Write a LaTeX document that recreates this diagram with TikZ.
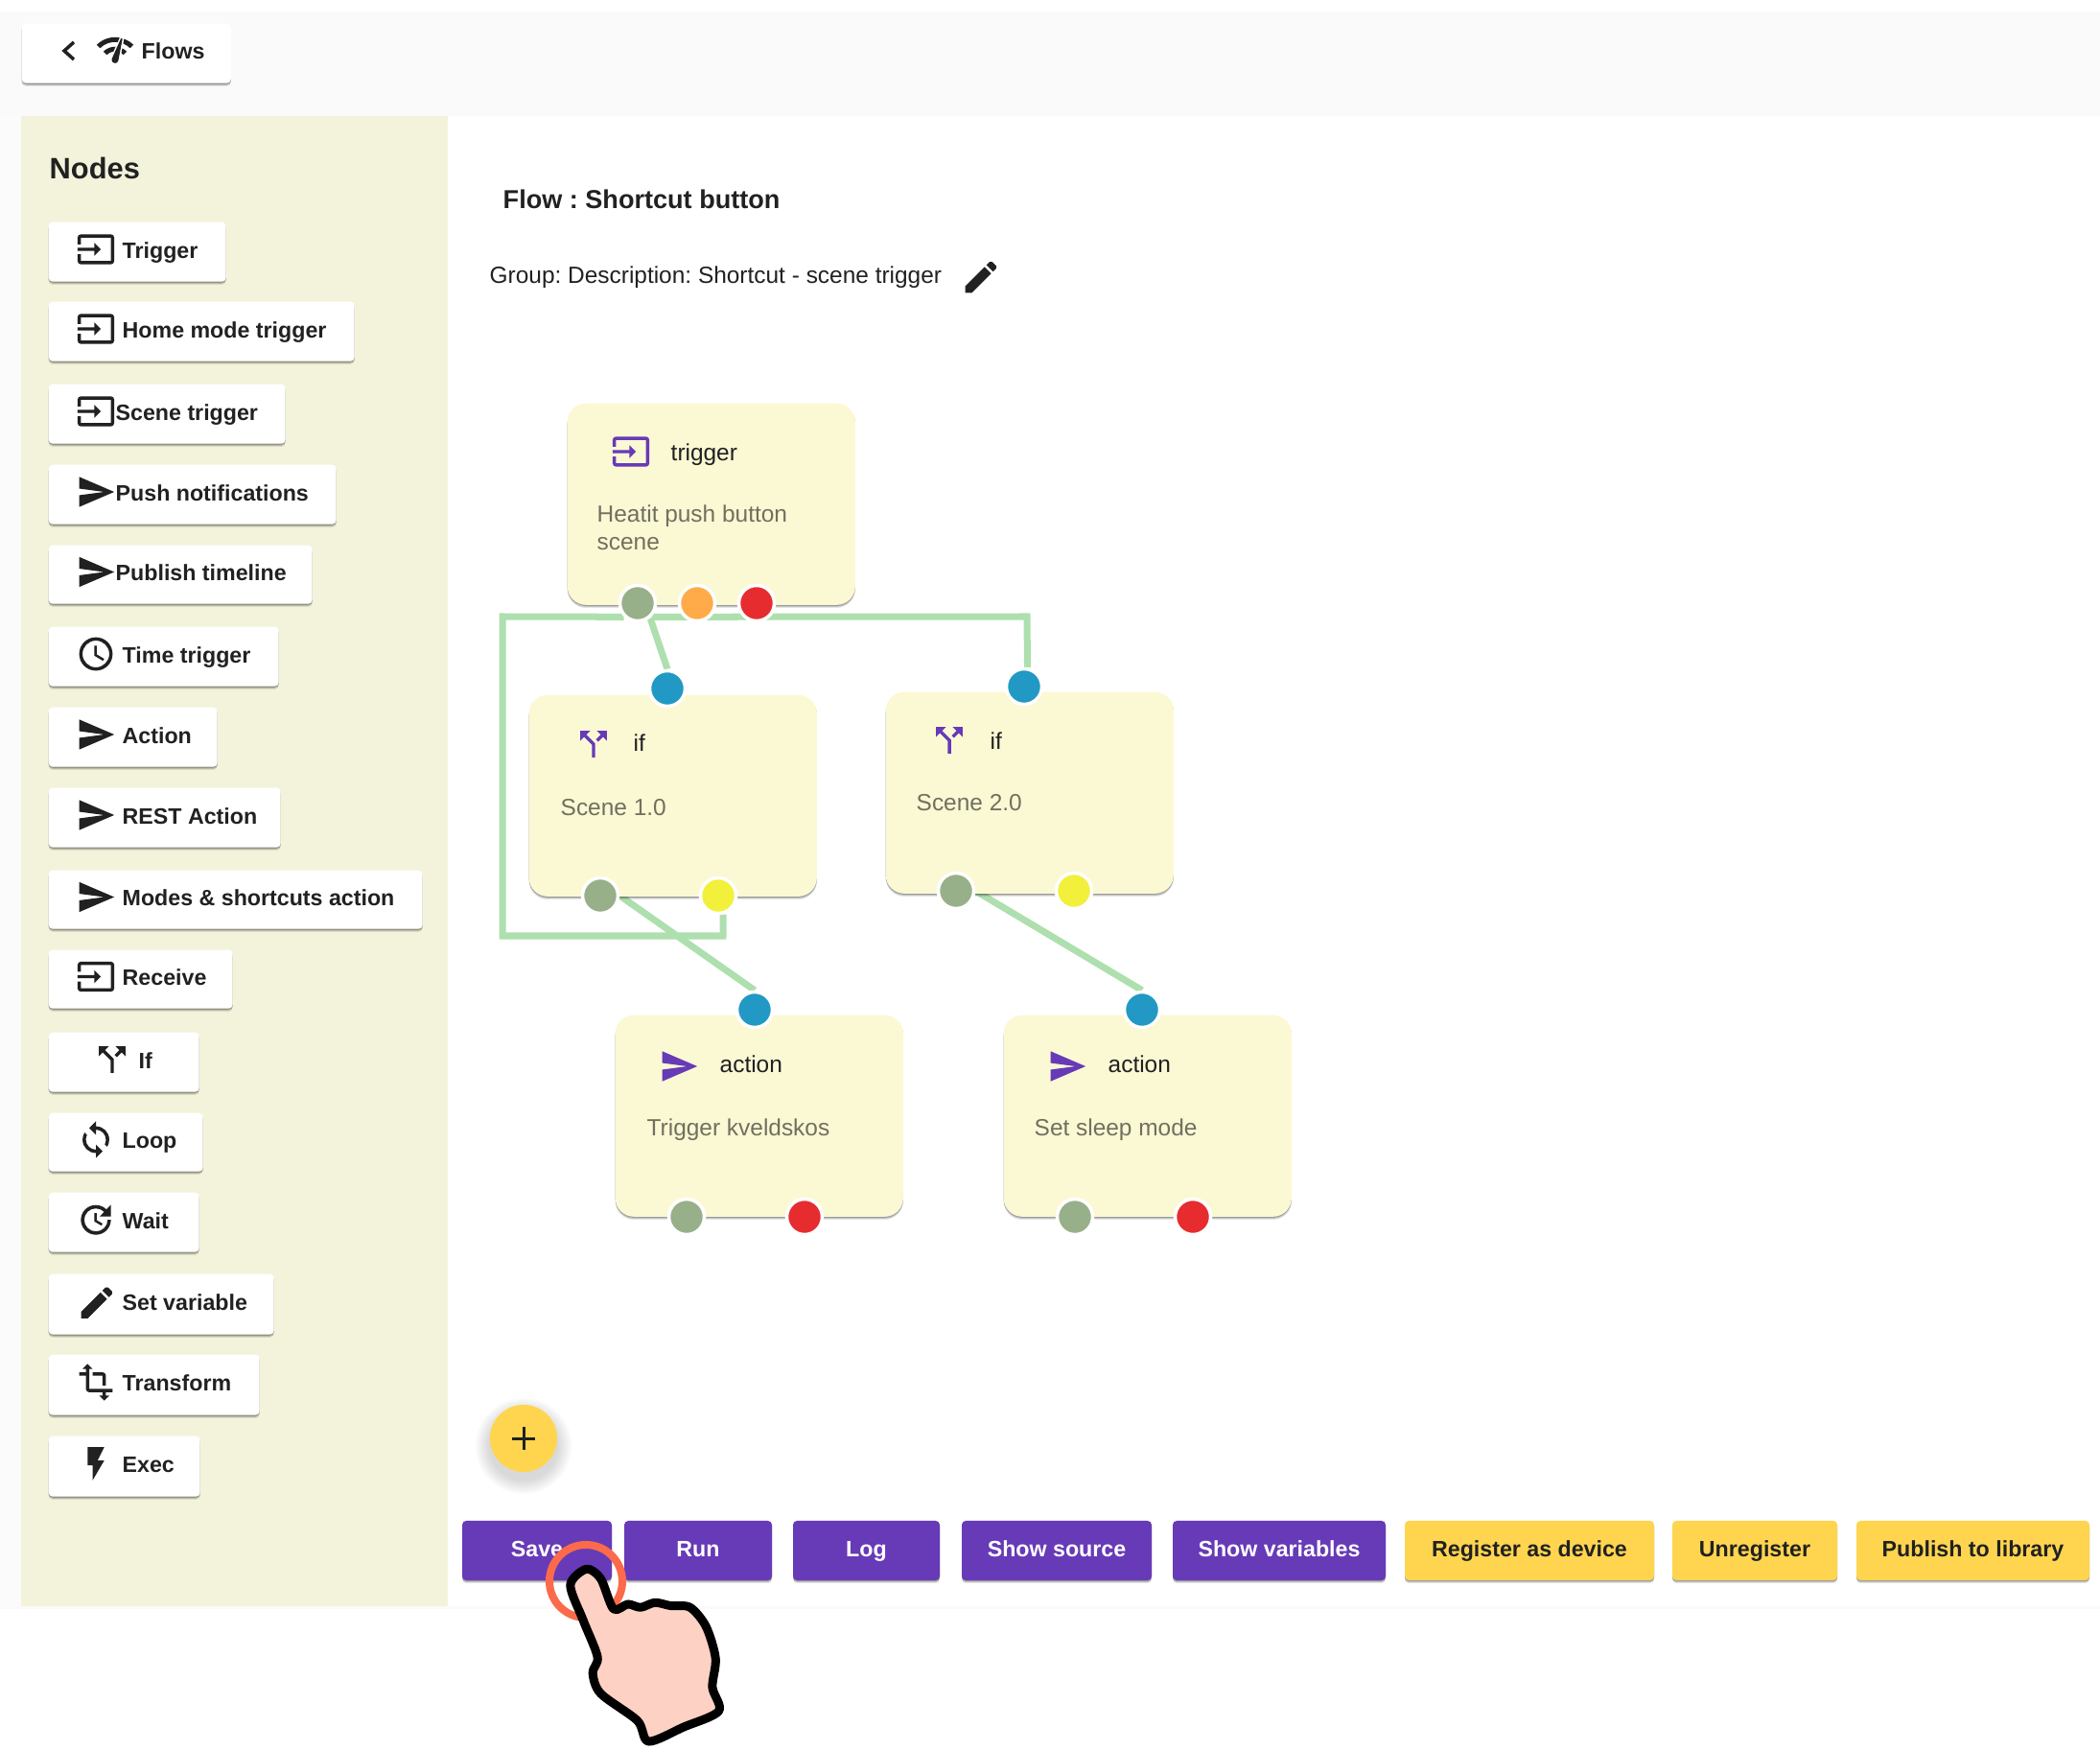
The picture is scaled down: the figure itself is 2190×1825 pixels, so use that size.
\documentclass[tikz,border=0pt]{standalone}
\usepackage{fontspec}
\setmainfont{Liberation Sans}
\frenchspacing
\usetikzlibrary{shadows,backgrounds,svg.path}
\definecolor{inkc}{HTML}{212121}
\definecolor{violetc}{HTML}{673AB7}
\definecolor{amberc}{HTML}{FFD54F}
\definecolor{panelc}{HTML}{F3F3DC}
\definecolor{cardc}{HTML}{FBF8D4}
\definecolor{wirec}{HTML}{AEDFAE}
\definecolor{dimc}{HTML}{71705F}
\definecolor{bluec}{HTML}{2199C4}
\definecolor{greenc}{HTML}{97B08A}
\definecolor{orangec}{HTML}{FFAB4A}
\definecolor{redc}{HTML}{E62C2F}
\definecolor{yellowc}{HTML}{F2F03A}
\definecolor{ringc}{HTML}{FB6A4A}
\definecolor{skinc}{HTML}{FDD1C3}
\tikzset{
	softshadow/.style={
		general shadow={shadow xshift=0pt,shadow yshift=-.9pt,opacity=.1,fill=black},
		general shadow={shadow xshift=0pt,shadow yshift=-.6pt,opacity=.15,fill=black},
		general shadow={shadow xshift=0pt,shadow yshift=-.3pt,opacity=.2,fill=black}},
	sidebtn/.style={fill=white,rounded corners=1.2pt,inner sep=0pt,anchor=north west,softshadow},
	actbtn/.style={fill=#1,rounded corners=1.2pt,inner sep=0pt,softshadow,minimum height=.62cm,text height=.72em,text depth=.37em},
	flowcard/.style={fill=cardc,rounded corners=5.5pt,inner sep=0pt,anchor=north west,softshadow,minimum width=3cm,minimum height=2.1cm},
	port/.style={circle,fill=#1,draw=white,line width=.035cm,minimum size=.37cm,inner sep=0pt},
	wire/.style={draw=wirec,line width=.07cm},
	medlab/.style={font=\fontsize{6.6}{8}\selectfont\bfseries,text=inkc,inner sep=0pt,anchor=west,text height=.72em,text depth=.2em},
	cardtitle/.style={font=\fontsize{6.95}{8}\selectfont,text=inkc,inner sep=0pt,anchor=west,text height=.72em,text depth=.2em},
	carddesc/.style={font=\fontsize{6.95}{8}\selectfont,text=dimc,inner sep=0pt,anchor=west,text height=.72em,text depth=.2em},
	icscale/.style={scale=.495,yscale=-1,shift={(-12pt,-12pt)}},
	pics/iconinput/.style={code={\fill[#1,icscale] svg {M21 3.01H3c-1.1 0-2 .9-2 2V9h2V4.99h18v14.03H3V15H1v4.01c0 1.1.9 1.98 2 1.98h18c1.1 0 2-.88 2-1.98v-14c0-1.11-.9-2-2-2zM11 16l4-4-4-4v3H1v2h10v3z};}},
	pics/iconsend/.style={code={\fill[#1,icscale] svg {M2.01 21L23 12 2.01 3 2 10l15 2-15 2z};}},
	pics/iconclock/.style={code={\fill[#1,icscale] svg {M11.99 2C6.47 2 2 6.48 2 12s4.47 10 9.99 10C17.52 22 22 17.52 22 12S17.52 2 11.99 2zM12 20c-4.42 0-8-3.58-8-8s3.58-8 8-8 8 3.58 8 8-3.58 8-8 8zm.5-13H11v6l5.25 3.15.75-1.23-4.5-2.67z};}},
	pics/iconsplit/.style={code={\fill[#1,icscale] svg {M14 4l2.29 2.29-2.88 2.88 1.42 1.42 2.88-2.88L20 10V4h-6zM10 4H4v6l2.29-2.29 4.71 4.7V20h2v-8.41l-5.29-5.3L10 4z};}},
	pics/iconloop/.style={code={\fill[#1,icscale] svg {M12 4V1L8 5l4 4V6c3.31 0 6 2.69 6 6 0 1.01-.25 1.97-.7 2.8l1.46 1.46C19.54 15.03 20 13.57 20 12c0-4.42-3.58-8-8-8zm0 14c-3.31 0-6-2.69-6-6 0-1.01.25-1.97.7-2.8L5.24 7.74C4.46 8.97 4 10.43 4 12c0 4.42 3.58 8 8 8v3l4-4-4-4v3z};}},
	pics/iconupdate/.style={code={\fill[#1,icscale] svg {M21 10.12h-6.78l2.74-2.82c-2.73-2.7-7.15-2.8-9.88-.1-2.73 2.71-2.73 7.08 0 9.79s7.15 2.71 9.88 0C18.32 15.65 19 14.08 19 12.1h2c0 1.98-.88 4.55-2.64 6.29-3.51 3.48-9.21 3.48-12.72 0-3.5-3.47-3.53-9.11-.02-12.58s9.14-3.47 12.65 0L21 3v7.12zM12.5 8v4.25l3.5 2.08-.72 1.21L11 13V8h1.5z};}},
	pics/iconedit/.style={code={\fill[#1,icscale,scale=1.05] svg {M3 17.25V21h3.75L17.81 9.94l-3.75-3.75L3 17.25zM20.71 7.04c.39-.39.39-1.02 0-1.41l-2.34-2.34c-.39-.39-1.02-.39-1.41 0l-1.83 1.83 3.75 3.75 1.83-1.83z};}},
	pics/icontransform/.style={code={\fill[#1,icscale] svg {M22 18v-2H8V4h2L7 1 4 4h2v2H2v2h4v8c0 1.1.9 2 2 2h8v2h-2l3 3 3-3h-2v-2h4zM10 8h6v6h2V8c0-1.1-.9-2-2-2h-6v2z};}},
	pics/iconflash/.style={code={\fill[#1,icscale] svg {M7 2v11h3v9l7-12h-4l4-8z};}},
	pics/iconnetwork/.style={code={\fill[#1,icscale] svg {M15.9 5c-.17 0-.32.09-.41.23l-.07.15-5.18 11.65c-.16.29-.26.61-.26.96 0 1.11.9 2.01 2.01 2.01.96 0 1.77-.68 1.96-1.59l.01-.03L16.4 5.5c0-.28-.22-.5-.5-.5zM1 9l2 2c2.88-2.88 6.79-4.08 10.53-3.62l1.19-2.68C9.89 3.84 4.74 5.27 1 9zm20 2l2-2c-1.64-1.64-3.55-2.82-5.59-3.57l-.53 2.82c1.5.62 2.9 1.53 4.12 2.75zm-4 4l2-2c-.8-.8-1.7-1.42-2.66-1.89l-.55 2.92c.42.27.83.59 1.21.97zM5 13l2 2c1.13-1.13 2.56-1.79 4.03-2l1.28-2.88c-2.63-.08-5.3.87-7.31 2.88z};}},
}
\begin{document}
\begin{tikzpicture}[x=0.01cm,y=-0.01cm]
	\useasboundingbox (0,0) rectangle (2190,1825);
	\fill[black!2] (0,12) rectangle (2190,121);
	\fill[black!1.5] (0,121) rectangle (22,1677);
	\fill[black!2] (0,1675) rectangle (2190,1678);
	\fill[panelc] (22,121) rectangle (467,1675);

	\node[sidebtn,minimum width=2.18cm,minimum height=.62cm] (btnflows) at (22,24) {};
	\draw[inkc,line width=.035cm] (77,44) -- (67,53) -- (77,62);
	\pic at (120,52) {iconnetwork=inkc};
	\node[medlab] (labflows) at (147,52) {Flows};
	\node[font=\fontsize{8.77}{10}\selectfont\bfseries,text=inkc,inner sep=0pt,anchor=west] (nodestitle) at (51,175) {Nodes};

	\foreach \nm/\ic/\lab/\yt/\yb/\xr/\xi/\xt in {
		trigger/iconinput/Trigger/231/293/235/100/127,
		homemode/iconinput/Home mode trigger/314/376/369/100/127,
		scene/iconinput/Scene trigger/400/462/297/100/120,
		push/iconsend/Push notifications/484/546/350/100/120,
		publish/iconsend/Publish timeline/568/629/325/100/120,
		time/iconclock/Time trigger/653/715/290/100/127,
		action/iconsend/Action/737/799/226/100/127,
		rest/iconsend/REST Action/821/883/292/100/127,
		modes/iconsend/Modes \& shortcuts action/907/968/440/100/127,
		receive/iconinput/Receive/990/1051/242/100/127,
		ifnode/iconsplit/If/1076/1138/207/117/144,
		loop/iconloop/Loop/1160/1221/211/100/127,
		wait/iconupdate/Wait/1243/1305/207/100/127,
		setvar/iconedit/Set variable/1328/1391/285/100/127,
		transform/icontransform/Transform/1412/1475/270/100/127,
		exec/iconflash/Exec/1497/1560/208/100/127}
	{
		\pgfmathsetmacro{\yc}{(\yt+\yb)/2-2}
		\node[sidebtn,minimum width={(\xr-50)*0.01cm},minimum height={(\yb-\yt)*0.01cm}] (btn\nm) at (50,\yt) {};
		\pic at (\xi,\yc) {\ic=inkc};
		\node[medlab] (lab\nm) at (\xt,\yc) {\lab};
	}

	\node[inner sep=0pt,anchor=west,font=\fontsize{7.7}{9}\selectfont\bfseries,text=inkc] (flowtitle) at (524,208) {Flow : Shortcut button};
	\node[cardtitle,text=inkc] (flowgroup) at (510,286) {Group: Description: Shortcut - scene trigger};
	\pic at (1022,288) {iconedit=inkc};

	\node[flowcard] (cardtrigger) at (591,420) {};
	\node[flowcard] (cardifa) at (551,724) {};
	\node[flowcard] (cardifb) at (923,721) {};
	\node[flowcard] (cardacta) at (641,1058) {};
	\node[flowcard] (cardactb) at (1046,1058) {};

	\pic at (658,471) {iconinput=violetc};
	\node[cardtitle] (ttrigger) at (699,471) {trigger};
	\node[carddesc] (dtriggera) at (622,535) {Heatit push button};
	\node[carddesc] (dtriggerb) at (622,564) {scene};
	\pic at (619,776) {iconsplit=violetc};
	\node[cardtitle] (tifa) at (660,774) {if};
	\node[carddesc] (difa) at (584,841) {Scene 1.0};
	\pic at (990,772) {iconsplit=violetc};
	\node[cardtitle] (tifb) at (1032,772) {if};
	\node[carddesc] (difb) at (955,836) {Scene 2.0};
	\pic at (708,1112) {iconsend=violetc};
	\node[cardtitle] (tacta) at (750,1109) {action};
	\node[carddesc] (dacta) at (674,1175) {Trigger kveldskos};
	\pic at (1113,1112) {iconsend=violetc};
	\node[cardtitle] (tactb) at (1155,1109) {action};
	\node[carddesc] (dactb) at (1078,1175) {Set sleep mode};

	\node[port=greenc] (tg) at (665,629) {};
	\node[port=orangec] (to) at (727,629) {};
	\node[port=redc] (tr) at (789,629) {};
	\node[port=bluec] (iba) at (696,718) {};
	\node[port=greenc] (iga) at (626,934) {};
	\node[port=yellowc] (iya) at (749,934) {};
	\node[port=bluec] (ibb) at (1068,716) {};
	\node[port=greenc] (igb) at (997,929) {};
	\node[port=yellowc] (iyb) at (1120,929) {};
	\node[port=bluec] (aba) at (787,1053) {};
	\node[port=greenc] (aga) at (716,1269) {};
	\node[port=redc] (ara) at (839,1269) {};
	\node[port=bluec] (abb) at (1191,1053) {};
	\node[port=greenc] (agb) at (1121,1269) {};
	\node[port=redc] (arb) at (1244,1269) {};

	\coordinate (busleft) at (524,643);
	\coordinate (busright) at (1071,643);
	\coordinate (busdown) at (524,976);
	\coordinate (busback) at (754,976);
	\begin{pgfonlayer}{background}
		\draw[wire] (tg.-135) -- (busleft) -- (busdown) -- (busback) -- (iya.-75);
		\draw[wire] (tg.-45) -- (busright) -- (ibb.80);
		\draw[wire] (tg.-50) -- (iba.north);
		\draw[wire] (iga.east) -- (aba.north);
		\draw[wire] (igb.east) -- (abb.north);
	\end{pgfonlayer}

	\foreach \r in {50,48,...,36}
	{
		\fill[black,opacity=.02] (546,1508) circle (\r);
	}
	\node[circle,fill=amberc,minimum size=.7cm,inner sep=0pt] (fab) at (546,1500) {};
	\draw[inkc,line width=.03cm] (fab.center) ++(-12,0) -- ++(24,0);
	\draw[inkc,line width=.03cm] (fab.center) ++(0,-12) -- ++(0,24);

	\foreach \nm/\lab/\xl/\xr/\bg/\fg in {
		save/Save/482/638/violetc/white,
		run/Run/651/805/violetc/white,
		log/Log/827/980/violetc/white,
		source/Show source/1003/1201/violetc/white,
		variables/Show variables/1223/1445/violetc/white,
		register/Register as device/1465/1725/amberc/inkc,
		unregister/Unregister/1744/1916/amberc/inkc,
		library/Publish to library/1936/2179/amberc/inkc}
	{
		\node[actbtn=\bg,text=\fg,font=\fontsize{6.6}{8}\selectfont\bfseries,minimum width={(\xr-\xl)*0.01cm}] (act\nm) at ({(\xl+\xr)/2},1617) {\lab};
	}

	\node[circle,draw=ringc,line width=.08cm,minimum size=.76cm,inner sep=0pt] (ring) at (611,1649) {};
	\begin{scope}[shift={(480,1420)},x=0.00333cm,y=-0.00333cm]
		\draw[black,fill=skinc,line width=.09cm,line join=round] plot[smooth cycle,tension=.5] coordinates {
			(395,650) (345,700) (385,810) (430,925) (415,975) (440,1040) (555,1125) (590,1190) (700,1145)
			(810,1095) (790,1020) (800,930) (770,830) (720,770) (660,765) (610,755) (565,770) (525,760)
			(480,775) (440,680)};
	\end{scope}
\end{tikzpicture}
\end{document}
